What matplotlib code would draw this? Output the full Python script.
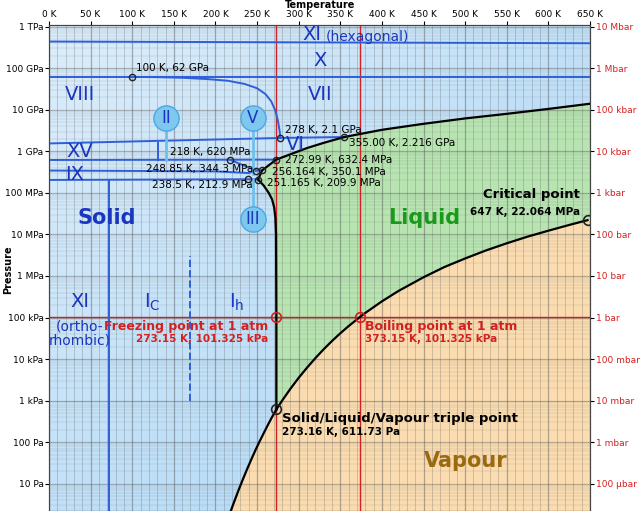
import numpy as np
import matplotlib.pyplot as plt
from matplotlib.colors import LinearSegmentedColormap

# ---- data (temperature in K, pressure in Pa) ----
sub_T = [273.16, 268, 263, 258, 253, 248, 243, 238, 233, 228, 223, 218, 214]
sub_P = [611.73, 402, 260, 165, 104, 63.8, 38.1, 22.4, 12.8, 7.2, 3.9, 2.1, 1.3]

vap_T = [273.16, 280, 290, 300, 310, 320, 330, 340, 350, 360, 373.15, 380, 400, 420,
         450, 475, 500, 525, 550, 575, 600, 625, 647]
vap_P = [611.73, 991, 1920, 3.54e3, 6.2e3, 10.5e3, 17.2e3, 27.2e3, 41.7e3, 62.2e3, 101325,
         128.8e3, 245e3, 437e3, 932e3, 1.64e6, 2.64e6, 4.12e6, 6.12e6, 8.85e6, 12.3e6,
         16.9e6, 22.064e6]

# melting curves (Ih, III, V, VI)
melt_T = [273.16, 273.15, 272.8, 272, 270.5, 268, 264, 258, 251.165, 256.164, 272.99,
          290, 310, 330, 355]
melt_P = [611.73, 101325, 1e7, 2.5e7, 4.5e7, 7e7, 1e8, 1.5e8, 209.9e6, 350.1e6, 632.4e6,
          0.85e9, 1.2e9, 1.6e9, 2.216e9]
# ice VII melting curve
vii_T = [355, 400, 450, 500, 550, 600, 650]
vii_P = [2.216e9, 3.3e9, 4.6e9, 6.2e9, 8.0e9, 1.05e10, 1.4e10]

# ice VIII / VII boundary
viii_T = [100, 130, 160, 190, 215, 235, 250, 260, 267, 272, 275, 277, 278]
viii_P = [62e9, 61e9, 59e9, 55e9, 50e9, 42e9, 33e9, 24e9, 16e9, 9.5e9, 5.5e9, 3.2e9, 2.1e9]

triple = (273.16, 611.73)
critical = (647, 22.064e6)
freeze = (273.15, 101325)
boil = (373.15, 101325)

pts_T = [100, 278, 355, 218, 248.85, 238.5, 272.99, 256.164, 251.165]
pts_P = [62e9, 2.1e9, 2.216e9, 620e6, 344.3e6, 212.9e6, 632.4e6, 350.1e6, 209.9e6]

pa_ticks = [1e1, 1e2, 1e3, 1e4, 1e5, 1e6, 1e7, 1e8, 1e9, 1e10, 1e11, 1e12]
pa_labels = ['10 Pa', '100 Pa', '1 kPa', '10 kPa', '100 kPa', '1 MPa', '10 MPa',
             '100 MPa', '1 GPa', '10 GPa', '100 GPa', '1 TPa']
bar_labels = ['100 µbar', '1 mbar', '10 mbar', '100 mbar', '1 bar', '10 bar', '100 bar',
              '1 kbar', '10 kbar', '100 kbar', '1 Mbar', '10 Mbar']
t_ticks = list(range(0, 651, 50))

TMIN, TMAX, PMIN, PMAX = 0, 650, 2.2, 1.1e12
BLUE = '#2f5fd8'
TXT = '#1a35c0'
RED = '#d42020'

fig = plt.figure(figsize=(6.41, 5.11), dpi=100)
ax = fig.add_axes([49 / 641, 0, 541 / 641, 1 - 25 / 511])
ax.set_xlim(TMIN, TMAX)
ax.set_yscale('log')
ax.set_ylim(PMIN, PMAX)

# background gradient (solid phases)
cm = LinearSegmentedColormap.from_list('b', ['#dcedfa', '#a8d4f5'])
g = np.add.outer(np.linspace(0, 1, 100), np.linspace(0, 1, 100)) / 2
ax.imshow(g, cmap=cm, extent=[0, 1, 0, 1], transform=ax.transAxes, aspect='auto', zorder=0)

# liquid region
liq_T = melt_T + vii_T[1:] + [650] + vap_T[::-1]
liq_P = melt_P + vii_P[1:] + [24e6] + vap_P[::-1]
ax.fill(liq_T, liq_P, color='#b8e4b2', zorder=1, lw=0)
# vapour region
vp_T = sub_T[::-1] + vap_T + [650, 650, 214]
vp_P = sub_P[::-1] + vap_P + [24e6, PMIN, PMIN]
ax.fill(vp_T, vp_P, color='#fadcb0', zorder=1, lw=0)

# grid
for t in range(0, 651, 10):
    ax.axvline(t, color='#555555', lw=0.9 if t % 50 == 0 else 0.4, alpha=0.45, zorder=2)
for d in range(0, 13):
    for m in range(1, 10):
        v = m * 10.0 ** d
        if PMIN < v < PMAX:
            ax.axhline(v, color='#555555', lw=0.9 if m == 1 else 0.3, alpha=0.4 if m == 1 else 0.3,
                       zorder=2)

# red reference lines
ax.axvline(273.15, color=RED, lw=1, zorder=3)
ax.axvline(373.15, color=RED, lw=1, zorder=3)
ax.axhline(101325, color=RED, lw=1, zorder=3)

# solid-solid boundaries
bl = dict(color=BLUE, lw=1.4, zorder=4)
ax.plot([0, 650], [4.4e11, 4.0e11], **bl)
ax.plot([0, 650], [62e9, 62e9], **bl)
ax.plot(viii_T, viii_P, **bl)
ax.plot([0, 278, 355], [1.55e9, 2.1e9, 2.216e9], **bl)
ax.plot([0, 272.99], [620e6, 632.4e6], **bl)
ax.plot([131, 131], [620e6, 1.55e9], **bl)
ax.plot([218, 248.85, 256.164], [620e6, 344.3e6, 350.1e6], **bl)
ax.plot([0, 200, 240, 248.85], [345e6, 330e6, 300e6, 344.3e6], **bl)
ax.plot([0, 238.5, 251.165], [205e6, 212.9e6, 209.9e6], **bl)
ax.plot([72, 72], [PMIN, 205e6], **bl)
ax.plot([170, 170], [1e3, 3e6], color=BLUE, lw=1.4, ls='--', zorder=4)
ax.plot([140, 140], [620e6, 5e9], color='#6ec0ef', lw=2, zorder=4)
ax.plot([245, 245], [290e6, 5e9], color='#6ec0ef', lw=2, zorder=4)
ax.plot([245, 245], [2e7, 200e6], color='#6ec0ef', lw=2, zorder=4)

# solid-liquid-vapour boundaries
k = dict(color='black', lw=1.6, zorder=5)
ax.plot(sub_T, sub_P, **k)
ax.plot(vap_T, vap_P, **k)
ax.plot(melt_T, melt_P, **k)
ax.plot(vii_T, vii_P, **k)

ax.plot(pts_T, pts_P, 'o', ms=4.5, mfc='none', mec='#222222', mew=1, zorder=6)
ax.plot(*triple, 'o', ms=7, mfc='none', mec='#222222', mew=1.2, zorder=6)
ax.plot(*critical, 'o', ms=7, mfc='none', mec='#222222', mew=1.2, zorder=6)
ax.plot(*freeze, 'o', ms=7, mfc='none', mec=RED, mew=1.2, zorder=6)
ax.plot(*boil, 'o', ms=7, mfc='none', mec=RED, mew=1.2, zorder=6)


def px(x, y):
    # pixel position in the reference -> data coords
    return (x - 49) / 541 * 650, 10 ** (12 - (y - 27) / 41.5)


def lab(x, y, s, size=14, color=TXT, ha='center', weight='normal'):
    ax.text(*px(x, y), s, fontsize=size, color=color, ha=ha, va='center',
            weight=weight, zorder=8)


# ice circles
for (cx, cy, s) in [(166, 118, 'II'), (253, 118, 'V'), (253, 219, 'III')]:
    ax.scatter(*px(cx, cy), s=330, color='#7ec8f0', edgecolor='#4aa8e0', zorder=7)
    lab(cx, cy, s, size=12)

lab(312, 35, 'XI'); lab(367, 37, '(hexagonal)', size=10)
lab(320, 61, 'X'); lab(80, 95, 'VIII'); lab(320, 95, 'VII')
lab(295, 145, 'VI'); lab(80, 152, 'XV'); lab(75, 175, 'IX')
lab(80, 302, 'XI'); lab(80, 326, '(ortho-', size=10); lab(80, 340, 'rhombic)', size=10)
lab(152, 302, r'I$_\mathregular{C}$'); lab(237, 302, r'I$_\mathregular{h}$')
lab(107, 218, 'Solid', size=15, weight='bold')
lab(424, 218, 'Liquid', size=15, color='#1a9a1a', weight='bold')
lab(466, 461, 'Vapour', size=15, color='#9a6a10', weight='bold')

sm = dict(size=7.5, color='black', ha='left')
lab(136, 68, '100 K, 62 GPa', **sm)
lab(285, 130, '278 K, 2.1 GPa', **sm)
lab(349, 143, '355.00 K, 2.216 GPa', **sm)
lab(170, 152, '218 K, 620 MPa', **sm)
lab(146, 169, '248.85 K, 344.3 MPa', **sm)
lab(152, 185, '238.5 K, 212.9 MPa', **sm)
lab(285, 160, '272.99 K, 632.4 MPa', **sm)
lab(272, 172, '256.164 K, 350.1 MPa', **sm)
lab(267, 183, '251.165 K, 209.9 MPa', **sm)

lab(580, 195, 'Critical point', size=9.5, color='black', ha='right', weight='bold')
lab(580, 212, '647 K, 22.064 MPa', size=7.5, color='black', ha='right', weight='bold')
lab(268, 326, 'Freezing point at 1 atm', size=9, color=RED, ha='right', weight='bold')
lab(268, 339, '273.15 K, 101.325 kPa', size=7.5, color=RED, ha='right', weight='bold')
lab(365, 326, 'Boiling point at 1 atm', size=9, color=RED, ha='left', weight='bold')
lab(365, 339, '373.15 K, 101.325 kPa', size=7.5, color=RED, ha='left', weight='bold')
lab(282, 418, 'Solid/Liquid/Vapour triple point', size=9.5, color='black', ha='left', weight='bold')
lab(282, 432, '273.16 K, 611.73 Pa', size=7.5, color='black', ha='left', weight='bold')

# axes
ax.xaxis.tick_top()
ax.set_xticks(t_ticks)
ax.set_xticklabels([f'{t} K' for t in t_ticks], fontsize=6.5)
ax.set_yticks(pa_ticks)
ax.set_yticklabels(pa_labels, fontsize=6.5)
ax.yaxis.set_minor_locator(plt.NullLocator())
ax.tick_params(length=3, pad=1)
ax2 = ax.twinx()
ax2.set_yscale('log')
ax2.set_ylim(PMIN, PMAX)
ax2.set_yticks(pa_ticks)
ax2.set_yticklabels(bar_labels, fontsize=6.5, color=RED)
ax2.yaxis.set_minor_locator(plt.NullLocator())
ax2.tick_params(length=3, pad=1)
for a in (ax, ax2):
    for s in a.spines.values():
        s.set_color('#444444')
fig.text(320 / 641, 1 - 5 / 511, 'Temperature', fontsize=7, weight='bold', ha='center', va='center')
fig.text(8 / 641, 1 - 270 / 511, 'Pressure', fontsize=7, weight='bold', rotation=90, ha='center', va='center')

fig.savefig('out.png', dpi=100)
